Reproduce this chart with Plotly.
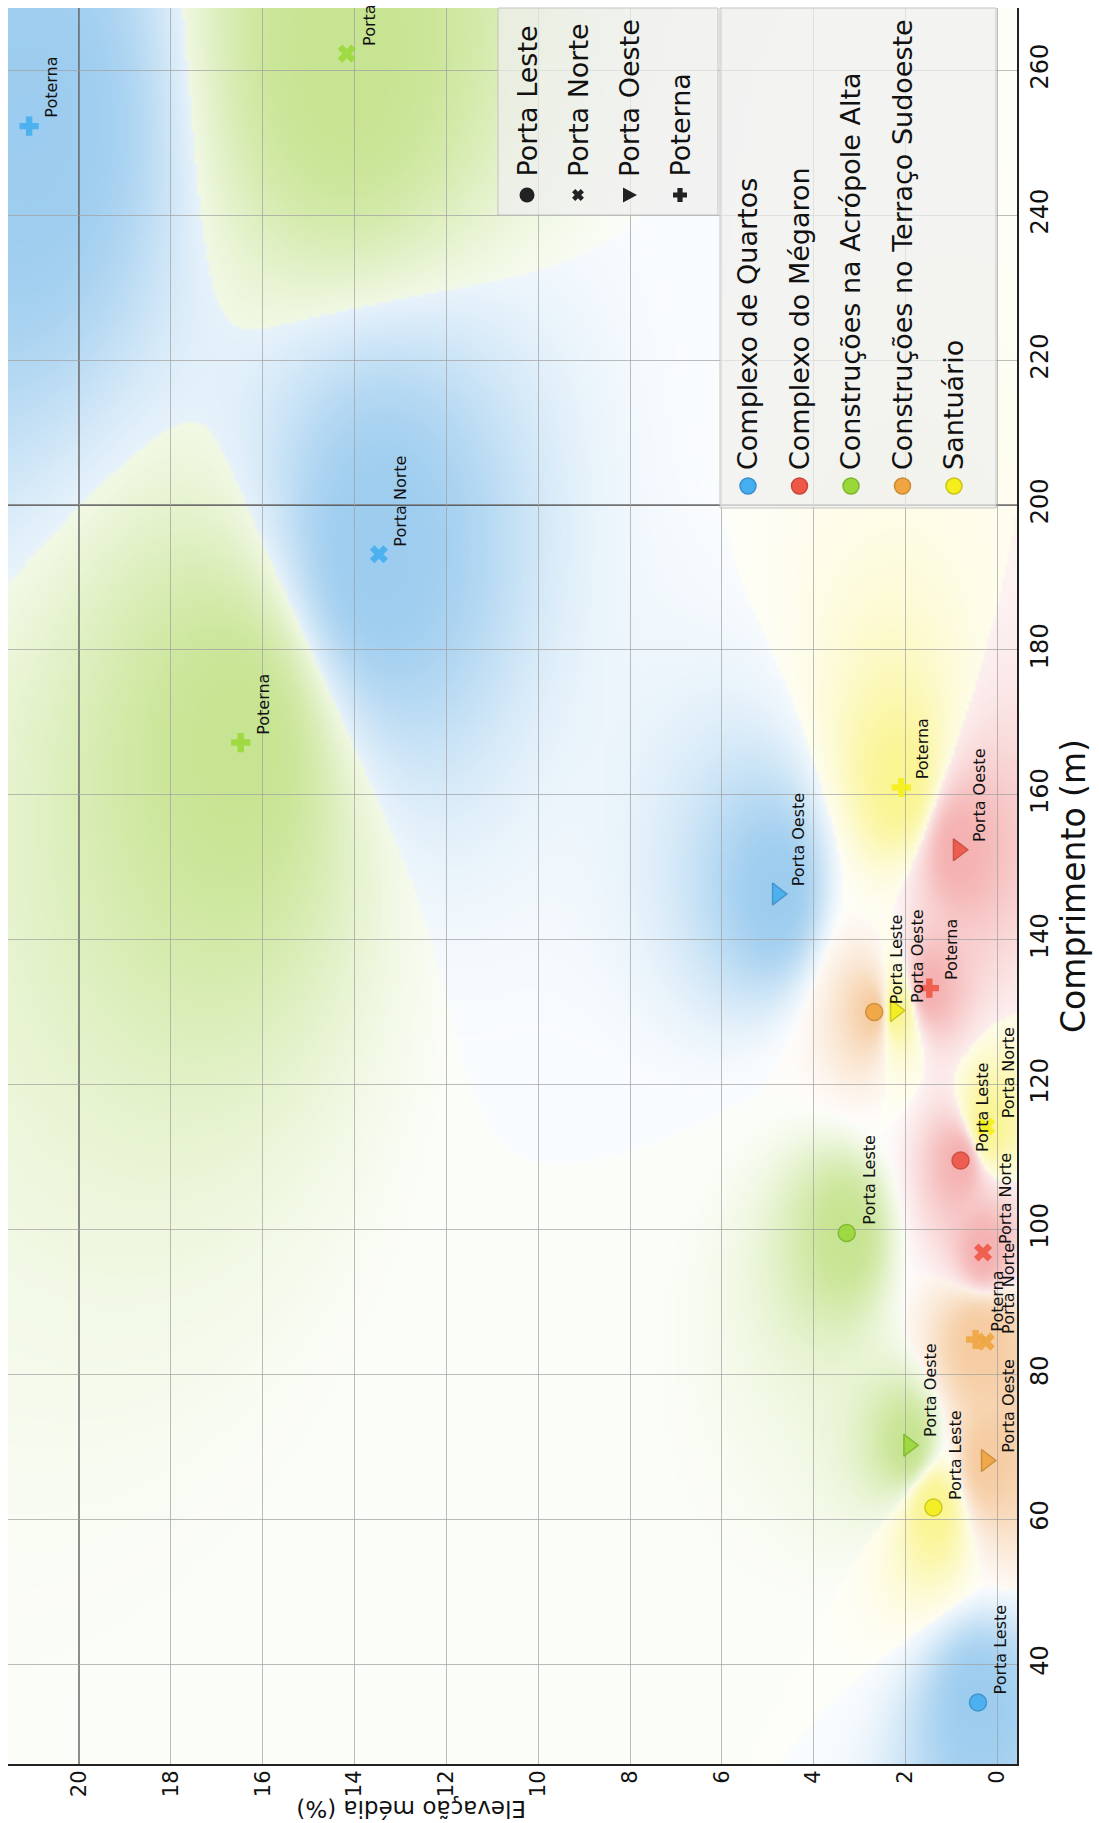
import base64
import struct
import zlib

import numpy as np
import plotly.graph_objects as go

# ---------------------------------------------------------------- data
categorias = [
    "Complexo de Quartos",
    "Complexo do Mégaron",
    "Construções na Acrópole Alta",
    "Construções no Terraço Sudoeste",
    "Santuário",
]
portas = ["Porta Leste", "Porta Norte", "Porta Oeste", "Poterna"]

# comprimento (m) and elevação média (%) per gate, in the order of `portas`
quartos_comp = [34.7, 193.2, 146.3, 252.3]
quartos_elev = [0.42, 13.47, 4.79, 21.09]
megaron_comp = [109.5, 96.8, 152.4, 133.3]
megaron_elev = [0.80, 0.31, 0.85, 1.48]
acropole_comp = [99.5, 262.3, 70.2, 167.2]
acropole_elev = [3.28, 14.17, 1.93, 16.48]
terraco_comp = [130.0, 84.5, 68.1, 84.8]
terraco_elev = [2.68, 0.25, 0.24, 0.47]
santuario_comp = [61.6, 114.2, 130.2, 161.0]
santuario_elev = [1.39, 0.24, 2.22, 2.09]

comp_por_cat = [quartos_comp, megaron_comp, acropole_comp, terraco_comp, santuario_comp]
elev_por_cat = [quartos_elev, megaron_elev, acropole_elev, terraco_elev, santuario_elev]

elev_ticks = list(range(0, 21, 2))
comp_ticks = list(range(40, 261, 20))

# ---------------------------------------------------------------- style
W, H = 1099, 1823
M_L, M_R, M_T, M_B = 8, 82, 8, 59
ELEV_RANGE = [21.55, -0.43]     # drawn left -> right (reversed)
COMP_RANGE = [26.2, 268.6]      # drawn bottom -> top

cor_marker = ["#45aef0", "#ee5646", "#9ad83a", "#f0a540", "#f4ee1c"]
cor_borda = ["#3a8fc8", "#c8473a", "#7db52e", "#c98a35", "#c9c316"]
cor_campo = [(70, 160, 225), (236, 110, 110), (150, 205, 50), (238, 160, 80), (246, 236, 50)]
simbolos = ["circle", "x", "triangle-right", "cross"]
tamanhos = [17, 16, 19, 16]

FONT = "DejaVu Sans, Verdana, sans-serif"
plot_w = W - M_L - M_R
plot_h = H - M_T - M_B


def px_to_paper(px, py):
    return (px - M_L) / plot_w, (H - M_B - py) / plot_h


# ------------------------------------------------- background class regions
def campo_classes():
    """Inverse-distance class probabilities on normalised coordinates."""
    nx, ny = 336, 585
    e_lo, e_hi = min(ELEV_RANGE), max(ELEV_RANGE)
    c_lo, c_hi = COMP_RANGE
    e = e_hi - (np.arange(nx) + 0.5) / nx * (e_hi - e_lo)
    c = c_hi - (np.arange(ny) + 0.5) / ny * (c_hi - c_lo)
    EN, CN = np.meshgrid((e - e_lo) / (e_hi - e_lo), (c - c_lo) / (c_hi - c_lo))

    pe = np.concatenate([np.array(v) for v in elev_por_cat])
    pc = np.concatenate([np.array(v) for v in comp_por_cat])
    cls = np.repeat(np.arange(len(categorias)), [len(v) for v in elev_por_cat])
    pen = (pe - e_lo) / (e_hi - e_lo)
    pcn = (pc - c_lo) / (c_hi - c_lo)

    d = np.sqrt((EN[..., None] - pen) ** 2 + (CN[..., None] - pcn) ** 2)
    w = 1.0 / np.maximum(d, 1e-4) ** 3
    score = np.stack([w[..., cls == i].sum(-1) for i in range(len(categorias))])
    vence = score.argmax(0)
    prob = score.max(0) / score.sum(0)
    conf = np.clip((prob - 0.3) / 0.7, 0, 1) ** 1.2
    alfa = 0.03 + 0.5 * conf
    cores = np.array(cor_campo, dtype=float)[vence]
    rgb = 255.0 * (1 - alfa[..., None]) + cores * alfa[..., None]
    return np.clip(rgb, 0, 255).astype(np.uint8)


def png_uri(arr):
    h, w, _ = arr.shape
    raw = b"".join(b"\x00" + arr[i].tobytes() for i in range(h))

    def chunk(tag, data):
        return (struct.pack(">I", len(data)) + tag + data
                + struct.pack(">I", zlib.crc32(tag + data) & 0xFFFFFFFF))

    png = (b"\x89PNG\r\n\x1a\n"
           + chunk(b"IHDR", struct.pack(">IIBBBBB", w, h, 8, 2, 0, 0, 0))
           + chunk(b"IDAT", zlib.compress(raw, 9))
           + chunk(b"IEND", b""))
    return "data:image/png;base64," + base64.b64encode(png).decode()


fig = go.Figure()

# ---------------------------------------------------------------- markers
for k, cat in enumerate(categorias):
    for j, porta in enumerate(portas):
        sym = simbolos[j]
        contorno = sym in ("circle", "triangle-right")
        fig.add_trace(go.Scatter(
            x=[elev_por_cat[k][j]], y=[comp_por_cat[k][j]],
            mode="markers", name=f"{cat} – {porta}", showlegend=False,
            marker=dict(symbol=sym, size=tamanhos[j],
                        color=cor_marker[k], opacity=0.9,
                        line=dict(color=cor_borda[k], width=1.5 if contorno else 0)),
            hoverinfo="skip",
        ))

# point labels (rotated with the chart)
annotations = []
for k in range(len(categorias)):
    for j, porta in enumerate(portas):
        annotations.append(dict(
            x=elev_por_cat[k][j], y=comp_por_cat[k][j], xref="x", yref="y",
            text=porta, showarrow=False, textangle=-90,
            xanchor="center", yanchor="bottom", xshift=22, yshift=6,
            font=dict(family=FONT, size=16, color="#111"),
        ))

# ---------------------------------------------------------------- legends
shapes = []
for (x0, y0, x1, y1) in [(498, 8, 718, 215), (720, 8, 996, 508)]:
    px0, py0 = px_to_paper(x0, y1)
    px1, py1 = px_to_paper(x1, y0)
    shapes.append(dict(type="rect", xref="paper", yref="paper", x0=px0, x1=px1, y0=py0, y1=py1,
                       fillcolor="rgba(238,238,238,0.72)", line=dict(color="rgba(190,190,190,0.9)", width=1),
                       layer="above"))


def poly(pts):
    return "M " + " L ".join(f"{a:.2f},{b:.2f}" for a, b in pts) + " Z"


cruz = [(-2.6, 7), (2.6, 7), (2.6, 2.6), (7, 2.6), (7, -2.6), (2.6, -2.6), (2.6, -7), (-2.6, -7),
        (-2.6, -2.6), (-7, -2.6), (-7, 2.6), (-2.6, 2.6)]
xis = [((a - b) * 0.62, (a + b) * 0.62) for a, b in cruz]
tri = [(-6, -7.5), (-6, 7.5), (8, 0)]

LEG_FONT = 27
leg1_x = [527.0, 578.0, 629.0, 680.0]
for i, porta in enumerate(portas):
    ax, ay = px_to_paper(leg1_x[i], 195)
    base = dict(xref="paper", yref="paper", xsizemode="pixel", ysizemode="pixel",
                xanchor=ax, yanchor=ay, fillcolor="#222", line=dict(width=0), layer="above")
    if i == 0:
        shapes.append(dict(type="circle", x0=-7.5, x1=7.5, y0=-7.5, y1=7.5, **base))
    else:
        shapes.append(dict(type="path", path=poly([xis, tri, cruz][i - 1]), **base))
    tx, ty = px_to_paper(leg1_x[i], 179)
    annotations.append(dict(x=tx, y=ty, xref="paper", yref="paper", text=porta, showarrow=False,
                            textangle=-90, xanchor="center", yanchor="bottom",
                            font=dict(family=FONT, size=LEG_FONT, color="#111")))

leg2_x = [748.0 + 51.5 * i for i in range(5)]
for i, cat in enumerate(categorias):
    ax, ay = px_to_paper(leg2_x[i], 486)
    shapes.append(dict(type="circle", xref="paper", yref="paper", xsizemode="pixel", ysizemode="pixel",
                       xanchor=ax, yanchor=ay, x0=-8, x1=8, y0=-8, y1=8,
                       fillcolor=cor_marker[i], line=dict(color=cor_borda[i], width=1.5), layer="above"))
    tx, ty = px_to_paper(leg2_x[i], 472)
    annotations.append(dict(x=tx, y=ty, xref="paper", yref="paper", text=cat, showarrow=False,
                            textangle=-90, xanchor="center", yanchor="bottom",
                            font=dict(family=FONT, size=LEG_FONT, color="#111")))

# two emphasised grid lines
shapes.append(dict(type="line", xref="x", yref="paper", x0=20, x1=20, y0=0, y1=1,
                   line=dict(color="rgba(40,40,40,0.85)", width=1.5), layer="below"))
shapes.append(dict(type="line", xref="paper", yref="y", x0=0, x1=1, y0=200, y1=200,
                   line=dict(color="rgba(40,40,40,0.85)", width=1.5), layer="below"))

# axis title of the elevation axis (upside down, as the whole chart is turned)
tx, ty = px_to_paper(411, 1809)
annotations.append(dict(x=tx, y=ty, xref="paper", yref="paper", text="Elevação média (%)",
                        showarrow=False, textangle=180, xanchor="center", yanchor="middle",
                        font=dict(family=FONT, size=23, color="#111")))

fig.update_layout(
    width=W, height=H,
    margin=dict(l=M_L, r=M_R, t=M_T, b=M_B, pad=0),
    paper_bgcolor="white", plot_bgcolor="white",
    showlegend=False,
    shapes=shapes,
    annotations=annotations,
    images=[dict(source=png_uri(campo_classes()), xref="paper", yref="paper", x=0, y=1,
                 sizex=1, sizey=1, xanchor="left", yanchor="top", sizing="stretch", layer="below")],
    xaxis=dict(range=ELEV_RANGE, tickmode="array", tickvals=elev_ticks, ticktext=[str(v) for v in elev_ticks],
               tickangle=-90, showgrid=True, gridcolor="rgba(160,160,160,0.7)", gridwidth=1,
               zeroline=False, showline=True, linecolor="#222", linewidth=2, ticks="",
               ticklabelstandoff=-4,
               tickfont=dict(family=FONT, size=21, color="#111"), fixedrange=True),
    yaxis=dict(range=COMP_RANGE, side="right", tickmode="array", tickvals=comp_ticks,
               ticktext=[str(v) for v in comp_ticks], tickangle=-90, showgrid=True,
               gridcolor="rgba(160,160,160,0.7)", gridwidth=1, zeroline=False, showline=True,
               linecolor="#222", linewidth=2, ticks="",
               tickfont=dict(family=FONT, size=24, color="#111"),
               title=dict(text="Comprimento (m)", font=dict(family=FONT, size=33, color="#111"), standoff=6),
               fixedrange=True),
)

fig.write_html("out.html")
